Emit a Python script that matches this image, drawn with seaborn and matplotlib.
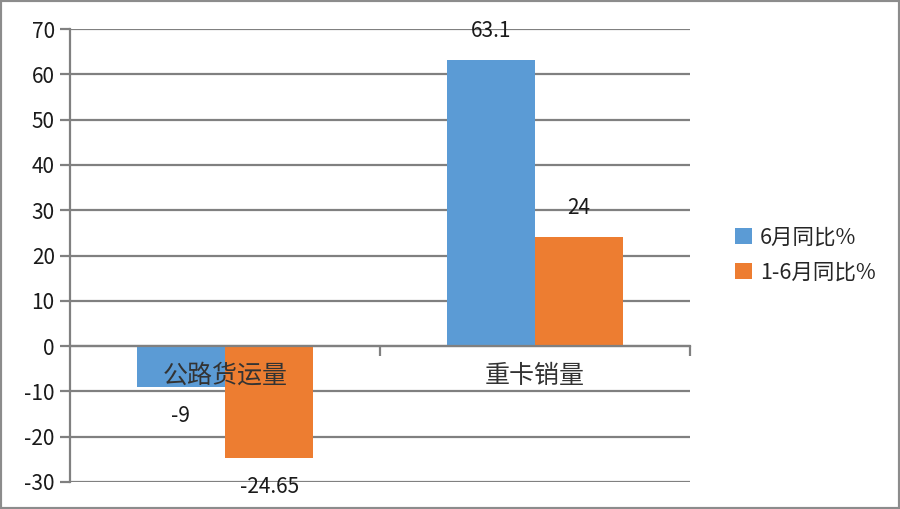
import matplotlib
matplotlib.use("Agg")
import matplotlib.pyplot as plt
import seaborn as sns
import pandas as pd
from matplotlib.patches import Rectangle
from matplotlib.ticker import FixedLocator

categories = ["公路货运量", "重卡销量"]
series_names = ["6月同比%", "1-6月同比%"]
june_yoy = [-9, 63.1]
h1_yoy = [-24.65, 24]
y_ticks = [-30, -20, -10, 0, 10, 20, 30, 40, 50, 60, 70]
colors = ["#5B9BD5", "#ED7D31"]

df = pd.DataFrame({
    "cat": categories * 2,
    "series": [series_names[0]] * 2 + [series_names[1]] * 2,
    "val": june_yoy + h1_yoy,
})

sns.set_theme(style="white")
plt.rcParams["font.family"] = ["Noto Sans CJK SC", "DejaVu Sans"]

grey = "#808080"
fig = plt.figure(figsize=(9, 5.09), dpi=100)
ax = fig.add_axes([70 / 900, 1 - 482 / 509, 620 / 900, 453 / 509])

sns.barplot(data=df, x="cat", y="val", hue="series", palette=colors,
            width=0.57, gap=0, saturation=1, ax=ax, errorbar=None,
            linewidth=0, edgecolor="none")

ax.set_xlim(-0.5, 1.5)
ax.set_ylim(-30, 70)
ax.set_yticks(y_ticks)
ax.set_yticklabels([str(t) for t in y_ticks], fontsize=15, color="#1a1a1a")
ax.set_xlabel("")
ax.set_ylabel("")

ax.yaxis.grid(True, color=grey, linewidth=1.6)
ax.set_axisbelow(True)

for s in ["top", "right"]:
    ax.spines[s].set_visible(False)
ax.spines["left"].set_color(grey)
ax.spines["left"].set_linewidth(1.6)
ax.spines["bottom"].set_position(("data", 0))
ax.spines["bottom"].set_color(grey)
ax.spines["bottom"].set_linewidth(1.6)
ax.spines["bottom"].set_zorder(3)

ax.tick_params(axis="y", left=True, length=7, width=1.6, color=grey, pad=4)
ax.tick_params(axis="x", which="major", bottom=False, length=0,
               labelbottom=False)
ax.xaxis.set_minor_locator(FixedLocator([0.5, 1.5]))
ax.tick_params(axis="x", which="minor", bottom=True, length=7, width=1.6,
               color=grey)

for i, cat in enumerate(categories):
    ax.annotate(cat, (i, 0), xytext=(0, -12), textcoords="offset points",
                ha="center", va="top", fontsize=18, color="#333333",
                zorder=10)

for cont in ax.containers:
    ax.bar_label(cont, fmt="%g", padding=13, fontsize=15, color="#1a1a1a")

handles, labels = ax.get_legend_handles_labels()
if ax.get_legend() is not None:
    ax.get_legend().remove()
fig.legend(handles, labels, loc="center left",
           bbox_to_anchor=(716 / 900, 1 - 255 / 509), frameon=False,
           fontsize=15.5, handlelength=0.75, handleheight=0.75,
           handletextpad=0.4, labelspacing=0.6)

fig.patches.append(Rectangle((0, 0), 1, 1, transform=fig.transFigure,
                             fill=False, lw=3, ec="#8c8c8c"))

fig.savefig("out.png", dpi=100)
